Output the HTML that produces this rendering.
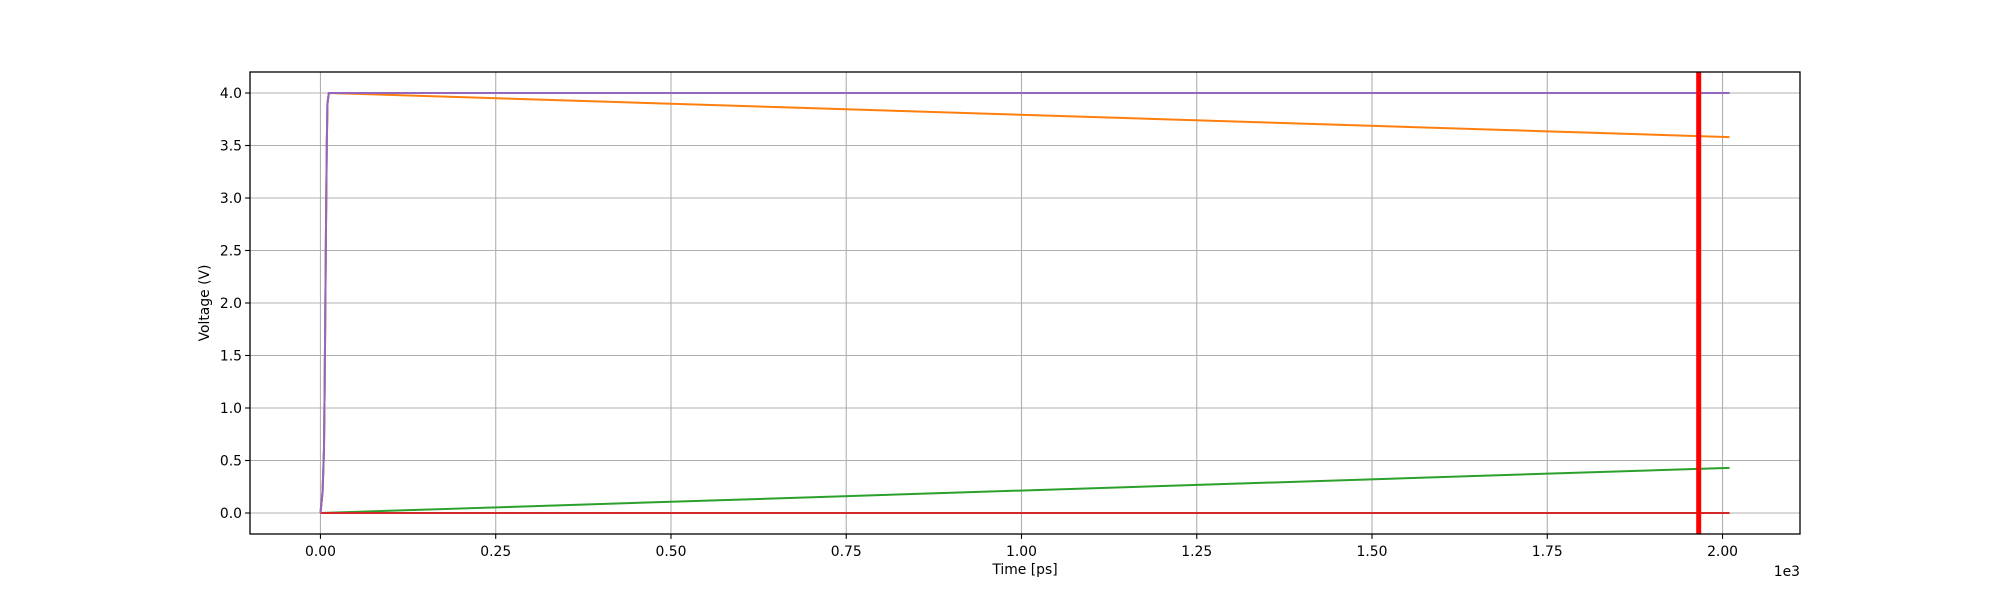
<!DOCTYPE html>
<html><head><meta charset="utf-8"><style>
html,body{margin:0;padding:0;background:#fff;}
svg{display:block;font-family:"DejaVu Sans","Liberation Sans",sans-serif;}
</style></head><body>
<svg id="chart" width="2000" height="600" xmlns="http://www.w3.org/2000/svg">
<rect x="0" y="0" width="2000" height="600" fill="#fff"/>
<g id="grid"></g>
<g id="series"></g>
<g id="ticks"></g>
<rect x="250" y="72" width="1550" height="462" fill="none" stroke="#000" stroke-width="1.3"/>
<text x="1025" y="574" font-size="13.9" text-anchor="middle">Time [ps]</text>
<text x="0" y="0" font-size="13.9" text-anchor="middle" transform="translate(209,303) rotate(-90)">Voltage (V)</text>
<text x="1800" y="576" font-size="13.9" text-anchor="end">1e3</text>
</svg>
<script>
const xTicks=[0,250,500,750,1000,1250,1500,1750,2000];
const xTickLabels=["0.00","0.25","0.50","0.75","1.00","1.25","1.50","1.75","2.00"];
const yTicks=[0,0.5,1,1.5,2,2.5,3,3.5,4];
const yTickLabels=["0.0","0.5","1.0","1.5","2.0","2.5","3.0","3.5","4.0"];
const blueX=[0,3,5,6,7,8,9,10,12,2010];
const blueY=[0,0.2,0.6,1.2,2,2.8,3.5,3.9,4,4];
const orangeX=[0,3,5,6,7,8,9,10,12,2010];
const orangeY=[0,0.2,0.6,1.2,2,2.8,3.5,3.9,4,3.58];
const greenX=[0,2010];
const greenY=[0,0.43];
const redX=[0,2010];
const redY=[0,0];
const purpleX=[0,3,5,6,7,8,9,10,12,2010];
const purpleY=[0,0.2,0.6,1.2,2,2.8,3.5,3.9,4,4];
const markerX=[1966];

const X0=250,X1=1800,Y0=534,Y1=72;
const xmin=-100.5,xmax=2110.5,ymin=-0.2,ymax=4.2;
const sx=v=>X0+(v-xmin)/(xmax-xmin)*(X1-X0);
const sy=v=>Y0-(v-ymin)/(ymax-ymin)*(Y0-Y1);
const NS="http://www.w3.org/2000/svg";
const grid=document.getElementById('grid'),ticks=document.getElementById('ticks'),ser=document.getElementById('series');
function mk(tag,attrs,parent){const e=document.createElementNS(NS,tag);for(const k in attrs)e.setAttribute(k,attrs[k]);parent.appendChild(e);return e;}
xTicks.forEach((t,i)=>{
 const x=sx(t);
 const g=mk('line',{x1:x,x2:x,y1:Y1,y2:Y0,stroke:'#b0b0b0','stroke-width':1.1},grid);
 
 
 const tk=mk('line',{x1:x,x2:x,y1:Y0,y2:Y0+4.9,stroke:'#000','stroke-width':1.1},ticks);
 
 
 const tl=mk('text',{x:x,y:Y0+22,'font-size':13.9,'text-anchor':'middle'},ticks);
 tl.textContent=xTickLabels[i];
 
 
});
yTicks.forEach((t,i)=>{
 const y=sy(t);
 const g=mk('line',{x1:X0,x2:X1,y1:y,y2:y,stroke:'#b0b0b0','stroke-width':1.1},grid);
 
 
 const tk=mk('line',{x1:X0-4.9,x2:X0,y1:y,y2:y,stroke:'#000','stroke-width':1.1},ticks);
 
 
 const tl=mk('text',{x:X0-8,y:y+5,'font-size':13.9,'text-anchor':'end'},ticks);
 tl.textContent=yTickLabels[i];
 
 
});
function line(xs,ys,color,name){
 const p=mk('polyline',{points:xs.map((x,i)=>sx(x)+','+sy(ys[i])).join(' '),fill:'none',stroke:color,'stroke-width':2},ser);
 
 
}
line(blueX,blueY,'#1f77b4','series-blue');
line(orangeX,orangeY,'#ff7f0e','series-orange');
line(greenX,greenY,'#2ca02c','series-green');
line(redX,redY,'#d62728','series-red');
line(purpleX,purpleY,'#9467bd','series-purple');
markerX.forEach(m=>{
 const l=mk('line',{x1:sx(m),x2:sx(m),y1:Y1,y2:Y0,stroke:'#ff0000','stroke-width':5},ser);
 
 
});
</script>
</body></html>
